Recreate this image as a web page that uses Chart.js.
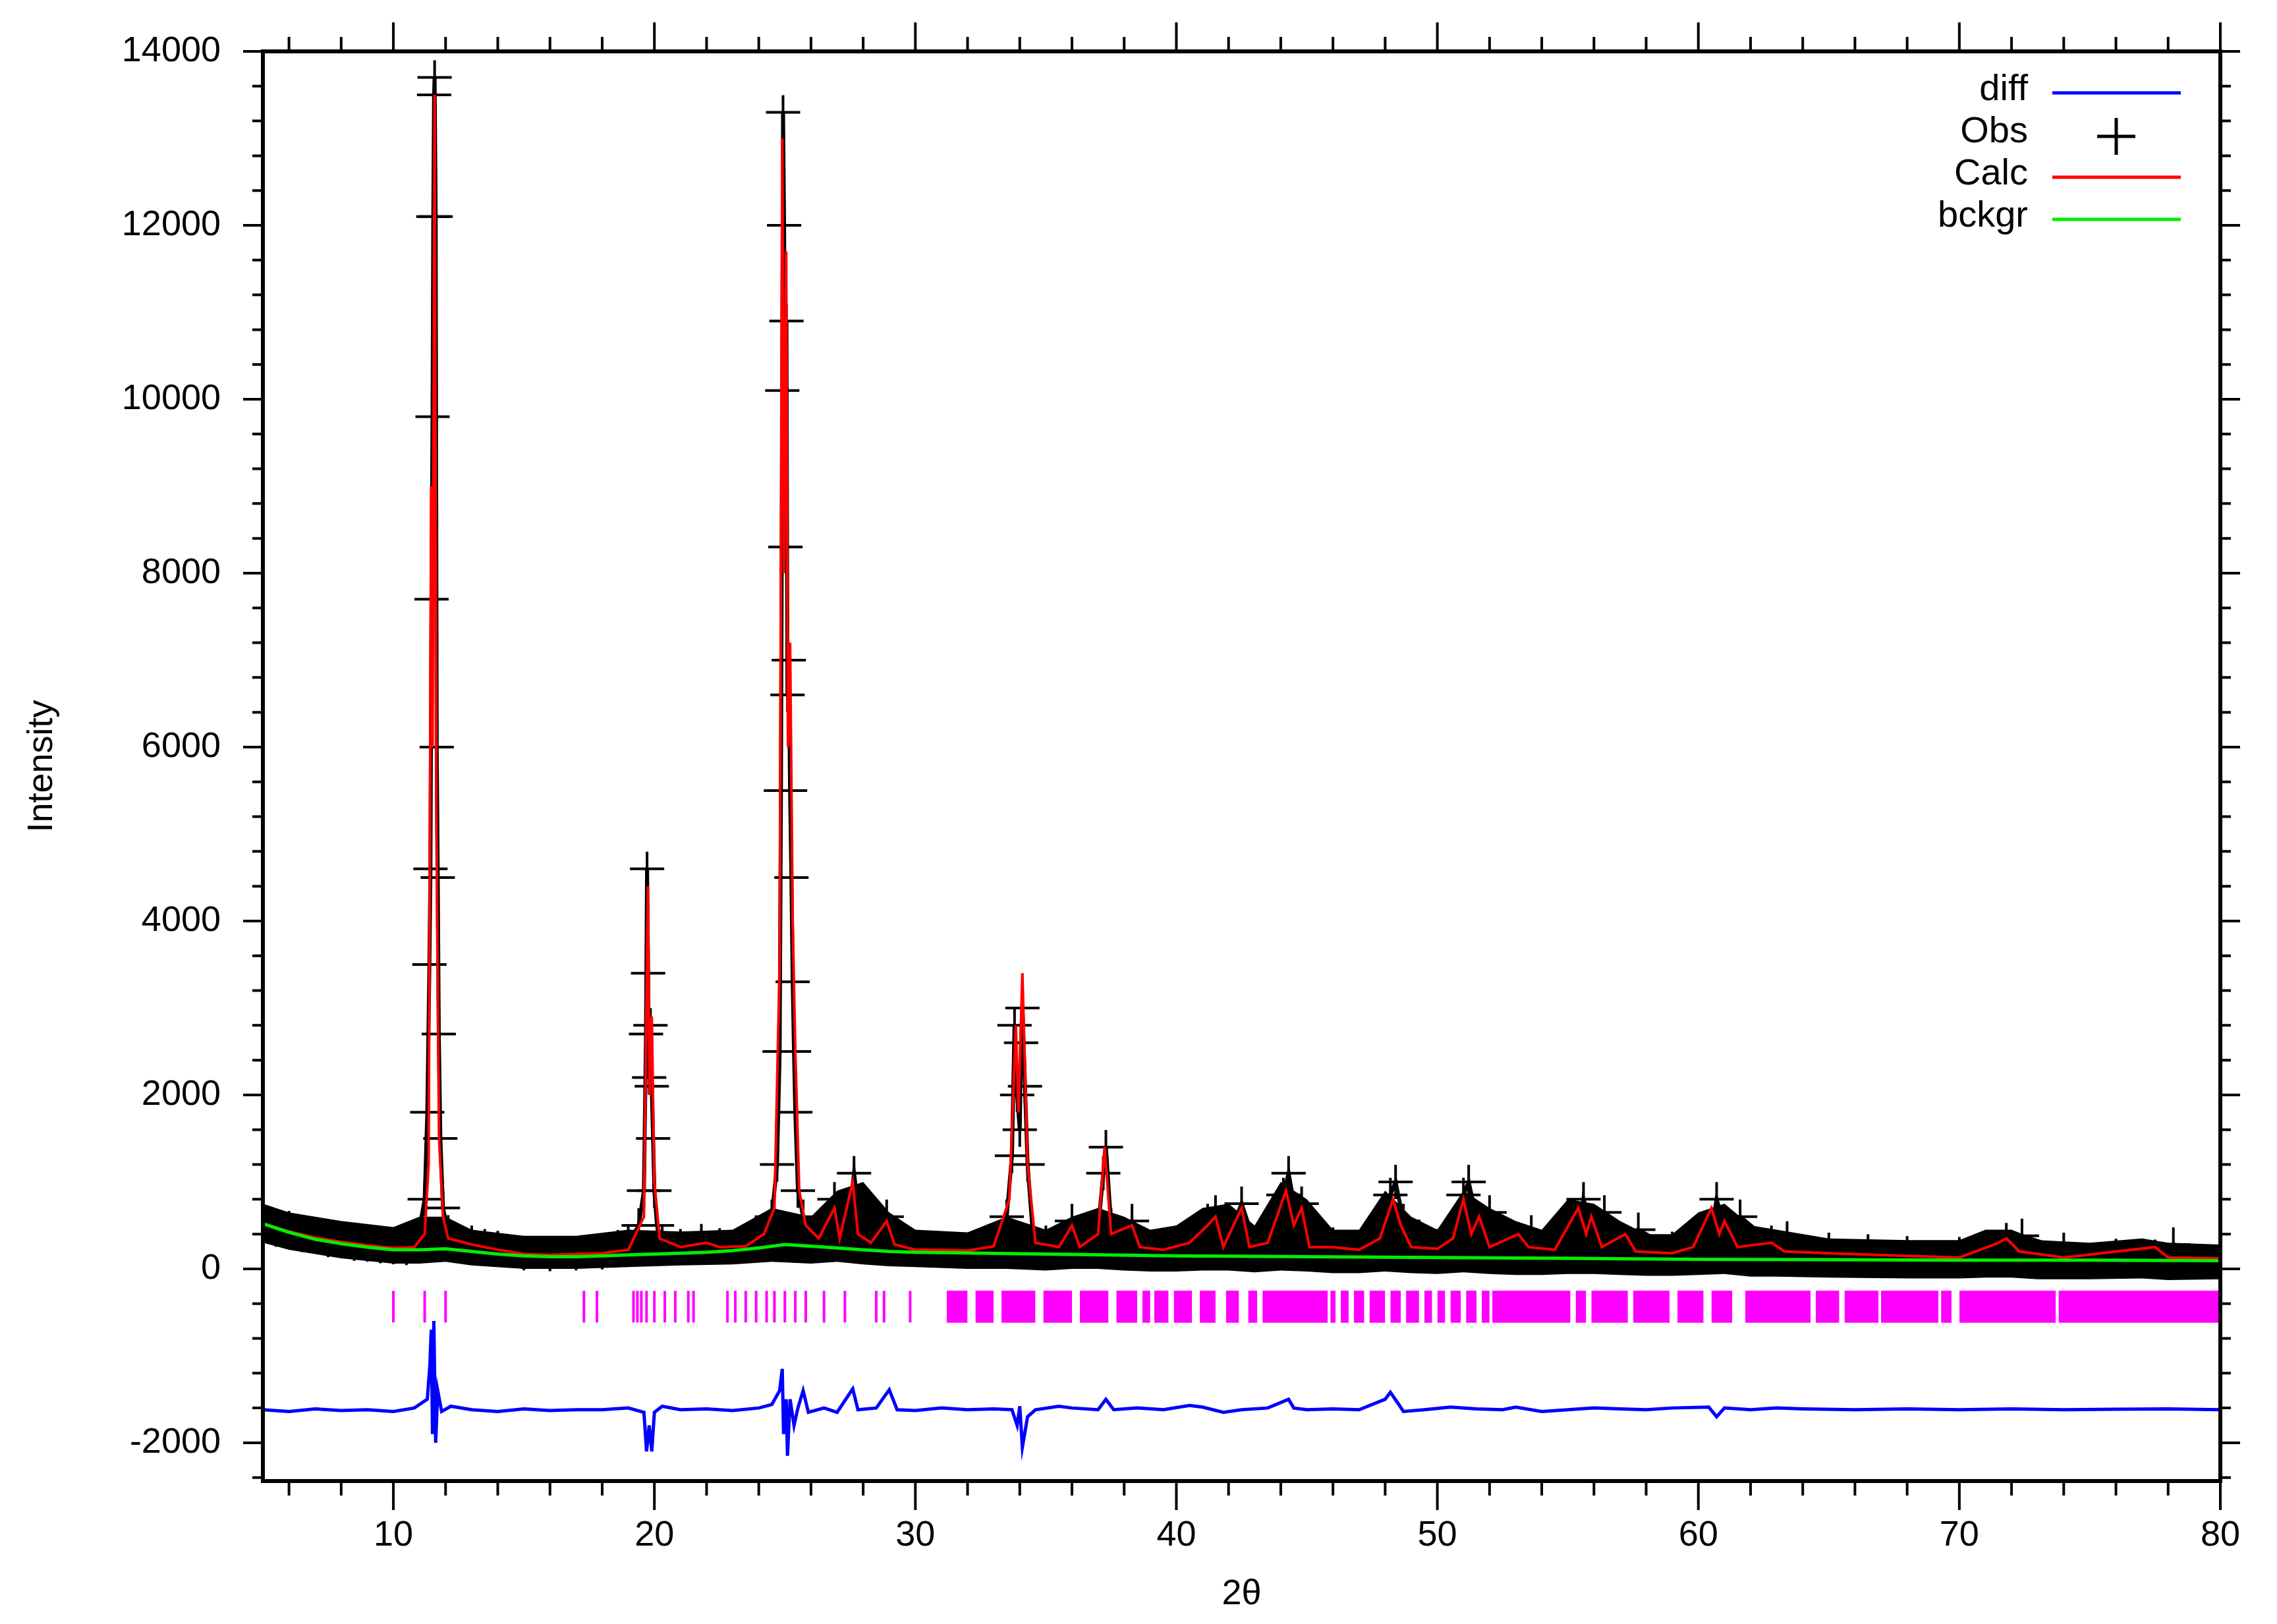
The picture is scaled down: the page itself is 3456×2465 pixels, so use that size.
<!DOCTYPE html>
<html lang="en">
<head>
<meta charset="UTF-8">
<title>Rietveld plot</title>
<script src="https://cdn.jsdelivr.net/npm/chart.js"></script>
<style>
  body { margin: 0; background: #fff; }
  canvas { display: block; }
</style>
</head>
<body>
<canvas id="c" width="3456" height="2465"></canvas>
<script>
// x ticks / y ticks
const xTicks = [10, 20, 30, 40, 50, 60, 70, 80];
const yTicks = [-2000, 0, 2000, 4000, 6000, 8000, 10000, 12000, 14000];

// calculated profile
const calcX = [5,6,7,8,9,10,10.8,11.2,11.35,11.45,11.5,11.58,11.65,11.75,11.9,12.1,13,14,15,16,17,18,19,19.6,19.75,19.82,19.9,20.0,20.2,21,22,22.5,23.5,24.2,24.6,24.8,24.9,24.97,25.05,25.12,25.2,25.3,25.4,25.55,25.8,26.3,26.9,27.1,27.6,27.8,28.3,28.9,29.2,30,31,32,33,33.6,33.85,33.95,34.1,34.3,34.6,35.5,36,36.3,37.0,37.25,37.5,38.3,38.6,39.5,40.5,41.2,41.5,41.8,42.5,42.8,43.5,44.2,44.5,44.8,45.1,46,47,47.8,48.3,48.6,49,50,50.6,51.0,51.3,51.6,52,53.1,53.5,54.5,55.4,55.7,55.9,56.3,57.2,57.6,59,59.8,60.5,60.8,61,61.5,62.8,63.3,65,68,70,71.5,71.8,72.3,74,77.5,78,80];
const calcY = [520,430,360,310,270,240,250,400,1200,9000,6000,13500,5000,1500,600,350,280,220,170,160,170,180,220,600,4400,2000,2900,1000,350,250,300,250,260,400,700,3500,13000,8000,11700,6000,7200,4000,2500,900,500,350,700,350,1000,400,300,550,280,220,220,210,260,800,2800,1800,3400,1200,300,250,500,250,400,1400,400,500,250,220,300,500,600,250,700,250,300,900,500,700,250,250,220,350,800,500,250,230,350,800,400,600,250,400,250,220,700,400,600,250,400,200,180,250,700,400,550,250,300,200,180,150,130,300,350,200,130,250,130,120];

// observed profile
const obsX = [5,5.5,6,6.5,7,7.5,8,8.5,9,9.5,10,10.5,10.9,11.2,11.3,11.38,11.42,11.46,11.5,11.53,11.56,11.58,11.62,11.66,11.7,11.74,11.8,11.9,12.1,12.5,13,13.5,14,15,16,17,18,18.6,19,19.4,19.6,19.68,19.72,19.76,19.8,19.85,19.9,19.95,20.0,20.1,20.3,21,21.8,22.5,23.5,24.2,24.5,24.7,24.8,24.85,24.9,24.93,24.97,25.02,25.06,25.1,25.15,25.2,25.25,25.3,25.35,25.4,25.5,25.7,26,26.5,26.9,27.1,27.5,27.65,27.9,28.4,28.9,29.3,30,31,32,33,33.5,33.7,33.8,33.9,34.0,34.05,34.1,34.2,34.3,34.5,35,35.5,36,36.4,37,37.2,37.3,37.5,38.3,38.7,39.5,40.5,41.2,41.5,41.9,42.5,43,43.6,44.1,44.3,44.6,44.8,45.2,46,47,47.8,48.2,48.4,48.7,49.2,50,50.6,51.0,51.2,51.6,52,53.1,53.6,54.5,55.4,55.6,55.9,56.4,57.2,57.7,59,59.8,60.4,60.7,61,61.6,62.8,63.4,65,66.5,68,70,71.5,71.8,72.4,74,76,77.5,78.2,80];
const obsY = [560,450,470,390,380,330,330,290,280,260,250,240,300,800,1800,3500,4600,7700,9800,12100,13500,13700,12100,6000,4500,2700,1500,700,420,320,300,260,240,180,170,180,190,250,300,500,900,2700,4600,3400,2200,2800,2100,1500,900,500,300,260,320,270,280,400,600,1200,2500,5500,10100,13300,12000,8300,10900,6600,7000,5500,4500,3300,2500,1800,900,600,380,420,800,400,700,1100,500,320,600,300,240,230,220,280,600,1300,2800,2000,1600,2600,3000,2100,1200,400,300,280,550,300,450,1100,1400,500,550,280,230,320,550,650,300,750,300,330,850,1100,600,750,300,280,240,380,850,1000,550,300,260,380,850,1000,450,650,300,420,280,240,800,500,650,300,450,230,200,300,800,500,600,300,350,220,200,180,170,150,330,380,220,150,140,280,160,140];

// spread of the observed points around the baseline
const envX = [5,6,8,10,11,12,13,15,17,19,21,23,24.5,26,27,28,29,30,32,33.5,35,36,37,38,39,40,41,42,43,44,45,46,47,48,49,50,51,52,53,54,55,56,57,58,59,60,61,62,63,65,68,70,71,72,73,75,77,78,80];
const envHi = [750,650,550,480,600,600,450,380,380,450,430,450,700,600,900,1000,650,450,420,600,450,600,700,600,450,500,700,750,500,1000,800,450,450,900,600,450,900,700,550,450,800,750,550,400,400,650,750,500,450,350,330,330,450,450,330,300,350,300,280];
const envLo = [300,220,120,60,60,80,40,0,0,20,40,50,80,60,80,50,30,20,0,0,-20,0,0,-20,-30,-30,-20,-20,-40,-20,-30,-50,-50,-30,-50,-60,-40,-60,-70,-70,-60,-60,-70,-80,-80,-70,-60,-90,-90,-100,-110,-110,-100,-100,-120,-120,-110,-130,-120];

// background
const bckX = [5,6,7,8,9,10,11,12,13,14,15,16,17,18,19,20,21,22,23,24,25,26,27,28,29,30,35,40,45,50,55,60,65,70,75,80];
const bckY = [520,420,340,290,250,220,220,230,200,170,150,140,140,150,160,170,180,190,210,240,280,260,240,220,200,190,170,150,140,130,120,110,105,100,100,95];

// difference curve (offset)
const diffX = [5,6,7,8,9,10,10.8,11.3,11.4,11.45,11.5,11.55,11.62,11.7,11.85,12.2,13,14,15,16,17,18,19,19.6,19.7,19.8,19.9,20.0,20.3,21,22,23,24,24.5,24.8,24.9,24.95,25.05,25.1,25.2,25.35,25.5,25.7,25.9,26.5,27,27.6,27.8,28.5,29,29.3,30,31,32,33,33.7,33.9,34.0,34.1,34.3,34.6,35.5,36,37,37.3,37.6,38.5,39.5,40.5,41,41.8,42.5,43.5,44.3,44.5,45,46,47,48,48.2,48.5,48.7,49.5,50.5,51.5,52.5,53,54,55,56,57,58,59,60.4,60.7,61,62,63,64,66,68,70,72,74,76,78,80];
const diffY = [-1620,-1640,-1610,-1630,-1620,-1640,-1600,-1500,-1100,-700,-1900,-600,-2000,-1400,-1640,-1580,-1620,-1640,-1610,-1630,-1620,-1620,-1600,-1650,-2100,-1800,-2100,-1650,-1580,-1620,-1610,-1630,-1600,-1560,-1400,-1150,-1900,-1500,-2150,-1500,-1800,-1600,-1400,-1650,-1600,-1650,-1380,-1620,-1600,-1390,-1620,-1630,-1600,-1620,-1610,-1620,-1800,-1580,-2050,-1700,-1620,-1580,-1600,-1620,-1500,-1620,-1600,-1620,-1570,-1590,-1650,-1620,-1600,-1500,-1600,-1620,-1610,-1620,-1500,-1420,-1550,-1640,-1620,-1590,-1610,-1620,-1590,-1640,-1620,-1600,-1610,-1620,-1600,-1590,-1700,-1600,-1620,-1600,-1610,-1620,-1610,-1620,-1610,-1620,-1615,-1610,-1620];

// reflection markers: single ticks and dense runs
const reflTicks = [10,11.2,12.0,17.3,17.8,19.2,19.35,19.5,19.7,20.0,20.4,20.8,21.3,21.5,22.8,23.1,23.5,23.9,24.3,24.6,25.0,25.4,25.8,26.5,27.3,28.5,28.8,29.8];
const reflBands = [[31.2,32.0],[32.3,33.0],[33.3,34.6],[34.9,36.0],[36.3,37.4],[37.7,38.5],[38.7,39.0],[39.15,39.7],[39.9,40.6],[40.9,41.5],[41.9,42.4],[42.75,43.1],[43.3,45.8],[45.9,46.1],[46.3,46.6],[46.8,47.2],[47.4,48.0],[48.2,48.6],[48.8,49.3],[49.5,49.8],[50.0,50.3],[50.5,50.9],[51.1,51.5],[51.7,52.0],[52.1,55.1],[55.3,55.7],[55.9,57.3],[57.5,58.9],[59.2,60.2],[60.5,61.3],[61.8,64.3],[64.5,65.4],[65.6,66.9],[67.0,69.2],[69.3,69.7],[70.0,73.7],[73.8,80]];
const reflTop = -250, reflBottom = -620;

const pts = (xs, ys) => xs.map((x, i) => ({ x: x, y: ys[i] }));
const FONT = '"Liberation Sans", Arial, sans-serif';

const datasets = [
  { label: 'bckgr', data: pts(bckX, bckY), borderColor: '#00ee00', borderWidth: 5, pointRadius: 0, order: 0 },
  { label: 'Calc', data: pts(calcX, calcY), borderColor: '#ff0000', borderWidth: 4, pointRadius: 0, order: 1 },
  { label: 'Obs', data: pts(obsX, obsY), borderColor: '#000', borderWidth: 6,
    pointStyle: 'cross', pointRadius: 26, pointBorderColor: '#000', pointBorderWidth: 4, order: 2 },
  { label: 'obsHi', data: pts(envX, envHi), borderWidth: 0, pointRadius: 0, backgroundColor: '#000', fill: '+1', order: 3 },
  { label: 'obsLo', data: pts(envX, envLo), borderWidth: 0, pointRadius: 0, order: 3 },
  { label: 'diff', data: pts(diffX, diffY), borderColor: '#0000ff', borderWidth: 5, pointRadius: 0, order: 4 },
  { label: 'refl', data: reflTicks.map(x => ({ x: x, y: (reflTop + reflBottom) / 2 })), showLine: false,
    pointStyle: 'line', rotation: 90, pointRadius: 24, pointBorderColor: '#ff00ff', pointBorderWidth: 4, order: 5 }
];
reflBands.forEach(b => datasets.push({
  label: 'band', data: [{ x: b[0], y: reflTop }, { x: b[1], y: reflTop }],
  borderWidth: 0, pointRadius: 0, backgroundColor: '#ff00ff', fill: { value: reflBottom }, order: 6
}));

const axesPlugin = {
  id: 'axes',
  afterDraw(chart) {
    const ctx = chart.ctx, a = chart.chartArea;
    const xs = chart.scales.x, ys = chart.scales.y;
    ctx.save();
    ctx.strokeStyle = '#000';
    ctx.fillStyle = '#000';
    ctx.lineWidth = 6;
    ctx.strokeRect(a.left, a.top, a.right - a.left, a.bottom - a.top);
    ctx.lineWidth = 4;
    ctx.beginPath();
    for (let v = 6; v <= 80; v += 2) {
      const px = xs.getPixelForValue(v), len = v % 10 === 0 ? 44 : 22;
      ctx.moveTo(px, a.bottom); ctx.lineTo(px, a.bottom + len);
      ctx.moveTo(px, a.top); ctx.lineTo(px, a.top - len);
    }
    for (let v = -2400; v <= 14000; v += 400) {
      const py = ys.getPixelForValue(v), len = v % 2000 === 0 ? 30 : 16;
      ctx.moveTo(a.left, py); ctx.lineTo(a.left - len, py);
      ctx.moveTo(a.right, py); ctx.lineTo(a.right + len, py);
    }
    ctx.stroke();
    ctx.font = '54px ' + FONT;
    ctx.textAlign = 'center'; ctx.textBaseline = 'top';
    xTicks.forEach(v => ctx.fillText(String(v), xs.getPixelForValue(v), a.bottom + 56));
    ctx.textAlign = 'right'; ctx.textBaseline = 'middle';
    yTicks.forEach(v => ctx.fillText(String(v), a.left - 64, ys.getPixelForValue(v)));
    ctx.textAlign = 'center';
    ctx.fillText('2θ', (a.left + a.right) / 2, 2420);
    ctx.save();
    ctx.translate(64, (a.top + a.bottom) / 2);
    ctx.rotate(-Math.PI / 2);
    ctx.fillText('Intensity', 0, 0);
    ctx.restore();
    // legend
    const rows = [['diff', '#0000ff', 'line'], ['Obs', '#000', 'cross'], ['Calc', '#ff0000', 'line'], ['bckgr', '#00ee00', 'line']];
    ctx.font = '56px ' + FONT;
    ctx.textAlign = 'right';
    rows.forEach((r, i) => {
      const y = 137 + i * 64;
      ctx.fillStyle = '#000';
      ctx.fillText(r[0], 3078, y);
      ctx.strokeStyle = r[1];
      ctx.beginPath();
      if (r[2] === 'line') {
        ctx.lineWidth = 5; ctx.moveTo(3115, y + 4); ctx.lineTo(3310, y + 4);
      } else {
        ctx.lineWidth = 5; ctx.moveTo(3183, y + 6); ctx.lineTo(3241, y + 6);
        ctx.moveTo(3212, y - 22); ctx.lineTo(3212, y + 34);
      }
      ctx.stroke();
    });
    ctx.restore();
  }
};

new Chart(document.getElementById('c'), {
  type: 'line',
  data: { datasets: datasets },
  options: {
    responsive: false,
    animation: false,
    devicePixelRatio: 1,
    layout: { padding: { left: 399, right: 86, top: 78, bottom: 217 } },
    plugins: { legend: { display: false }, tooltip: { enabled: false } },
    scales: {
      x: { type: 'linear', min: 5, max: 80, display: false },
      y: { type: 'linear', min: -2440, max: 14000, display: false }
    }
  },
  plugins: [axesPlugin]
});
</script>
</body>
</html>
